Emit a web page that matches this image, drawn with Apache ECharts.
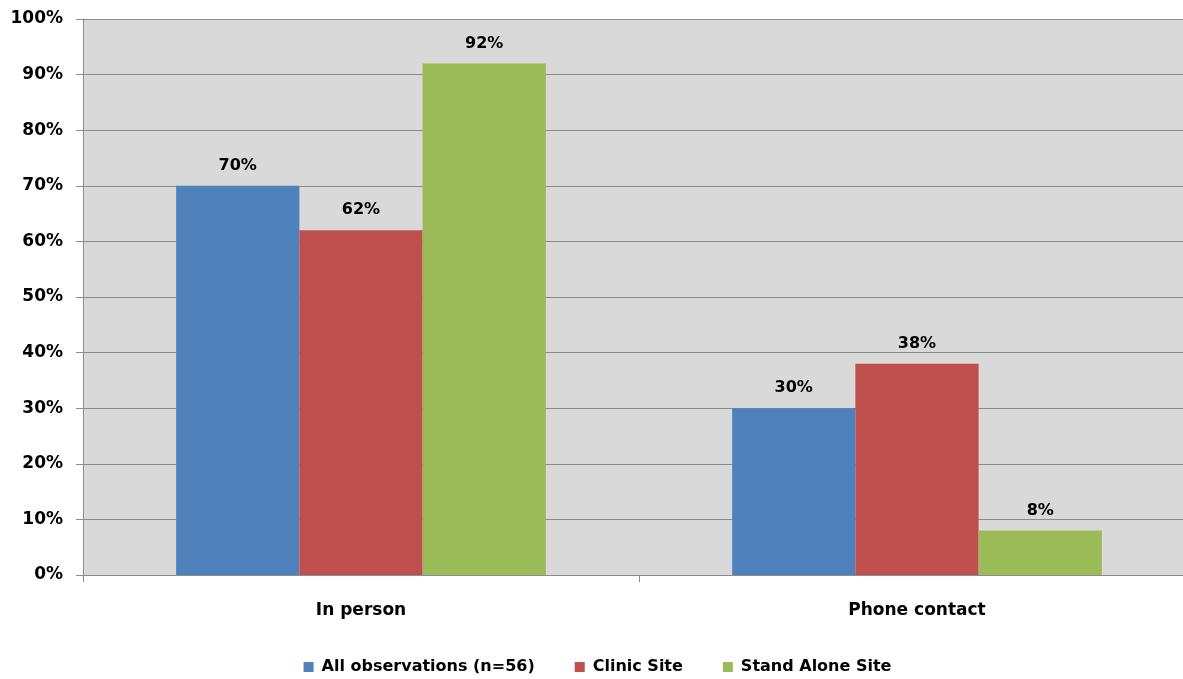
<!DOCTYPE html>
<html>
<head>
<meta charset="utf-8">
<title>Contact type by site</title>
<script src="https://cdn.jsdelivr.net/npm/echarts@6/dist/echarts.min.js"></script>
<style>
  html, body { margin: 0; padding: 0; background: #ffffff; overflow: hidden; }
  /* canvas is a little wider than the window so the plot area runs off the right edge */
  #chart { width: 1195px; height: 679px; }
</style>
</head>
<body>
<div id="chart"></div>
<script>
// Categories and per-series percentages
const categories = ['In person', 'Phone contact'];
const seriesNames = ['All observations (n=56)', 'Clinic Site', 'Stand Alone Site'];
const allObservations = [70, 30];
const clinicSite = [62, 38];
const standAloneSite = [92, 8];
const yTicks = [0, 10, 20, 30, 40, 50, 60, 70, 80, 90, 100];

const colors = ['#4f81bd', '#c0504d', '#9bbb59'];
const font = '"DejaVu Sans", Tahoma, Verdana, sans-serif';

const chart = echarts.init(document.getElementById('chart'));

function barSeries(name, data, color) {
  return {
    name: name,
    type: 'bar',
    data: data,
    barGap: '0%',
    barCategoryGap: '33.5%',
    itemStyle: { color: color },
    label: {
      show: true,
      position: 'top',
      distance: 12,
      formatter: p => p.value + '%',
      fontFamily: font,
      fontWeight: 'bold',
      fontSize: 16,
      color: '#000000'
    }
  };
}

chart.setOption({
  animation: false,
  color: colors,
  grid: {
    left: 83, top: 19, right: 0, bottom: 104,
    show: true, backgroundColor: '#d9d9d9', borderWidth: 0
  },
  legend: {
    top: 654,
    left: 'center',
    itemWidth: 10,
    itemHeight: 10,
    itemGap: 40,
    icon: 'rect',
    textStyle: {
      fontFamily: font, fontWeight: 'bold', fontSize: 16, color: '#000000',
      padding: [0, 0, 0, 3]
    },
    data: seriesNames
  },
  xAxis: {
    type: 'category',
    data: categories,
    axisLine: { lineStyle: { color: '#8c8c8c', width: 1 } },
    axisTick: { show: true, length: 7, lineStyle: { color: '#8c8c8c' } },
    axisLabel: {
      margin: 27,
      fontFamily: font, fontWeight: 'bold', fontSize: 17, color: '#000000'
    }
  },
  yAxis: {
    type: 'value',
    min: yTicks[0],
    max: yTicks[yTicks.length - 1],
    interval: 10,
    axisLine: { show: true, lineStyle: { color: '#8c8c8c', width: 1 } },
    axisTick: { show: true, length: 7, lineStyle: { color: '#8c8c8c' } },
    splitLine: { show: true, lineStyle: { color: '#8c8c8c', width: 1 } },
    axisLabel: {
      margin: 20,
      formatter: v => v + '%',
      fontFamily: font, fontWeight: 'bold', fontSize: 17, color: '#000000'
    }
  },
  series: [
    barSeries(seriesNames[0], allObservations, colors[0]),
    barSeries(seriesNames[1], clinicSite, colors[1]),
    barSeries(seriesNames[2], standAloneSite, colors[2])
  ]
});
</script>
</body>
</html>
